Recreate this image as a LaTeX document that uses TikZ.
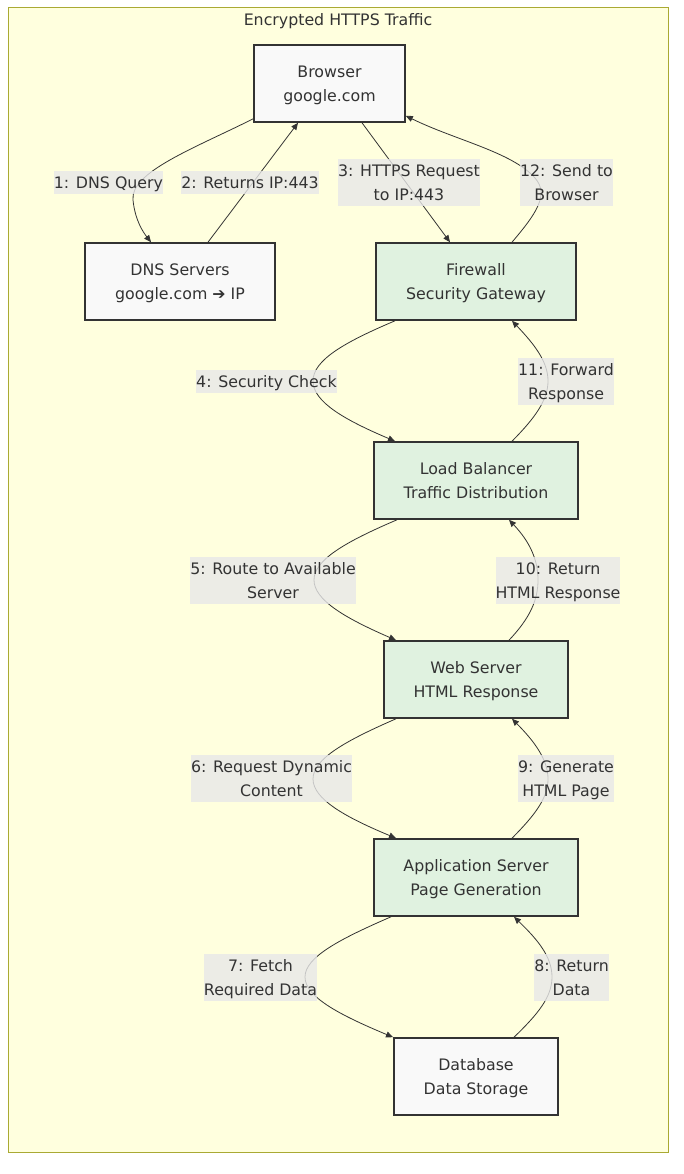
\documentclass[tikz,border=0pt]{standalone}
\usepackage{fontspec}
\setmainfont{DejaVu Sans}
\usetikzlibrary{arrows.meta,calc}
\definecolor{clfill}{HTML}{FFFFDE}
\definecolor{clline}{HTML}{AAAA33}
\definecolor{nfill}{HTML}{F9F9F9}
\definecolor{gfill}{HTML}{E0F2E0}
\definecolor{ink}{HTML}{333333}
\definecolor{lblbg}{HTML}{E8E8E8}
\newcommand\ls{\rule[-6.45pt]{0pt}{24pt}}
\begin{document}
\begin{tikzpicture}[x=1pt,y=-1pt,
  every node/.style={text=ink, font=\fontsize{15.8pt}{24pt}\selectfont},
  box/.style={draw=ink, line width=1.6pt, fill=nfill, minimum height=77pt, inner sep=0pt, align=center},
  gbox/.style={box, fill=gfill},
  lbl/.style={fill=lblbg, fill opacity=0.8, text opacity=1, inner xsep=0pt, inner ysep=-0.5pt, align=center},
  edge/.style={draw=ink, line width=0.8pt, -{Triangle[length=7pt,width=6pt]}}
]
\useasboundingbox (0,0) rectangle (684,1174);
\draw[fill=clfill, draw=clline, line width=1pt] (8,8) rectangle (668,1152);
\node[inner sep=0pt] (title) at (338,20.3) {\ls Encrypted HTTPS Traffic};

\node[box, minimum width=151pt] (b) at (329.5,83.5) {\ls Browser\\\ls google.com};
\node[box, minimum width=190pt] (dns) at (180,281.5) {\ls DNS Servers\\\ls google.com ➔ IP};
\node[gbox, minimum width=200pt] (fw) at (476,281.5) {\ls Firewall\\\ls Security Gateway};
\node[gbox, minimum width=204pt] (lb) at (476,480.5) {\ls Load Balancer\\\ls Traffic Distribution};
\node[gbox, minimum width=184pt] (web) at (476,679.5) {\ls Web Server\\\ls HTML Response};
\node[gbox, minimum width=204pt] (app) at (476,877.5) {\ls Application Server\\\ls Page Generation};
\node[box, minimum width=164pt] (db) at (476,1076.5) {\ls Database\\\ls Data Storage};

% edges
\draw[edge] ($(b.south west)+(0,-4)$) .. controls (195,148) and (130,172) .. (133,200) .. controls (135,220) and (143,232) .. ($(dns.north)+(-29,0)$);
\draw[edge] ($(dns.north)+(28,0)$) -- ($(b.south)+(-31.5,0)$);
\draw[edge] ($(b.south)+(32.5,0)$) -- ($(fw.north)+(-26,0)$);
\draw[edge] ($(fw.north)+(36,0)$) .. controls (535,215) and (550,195) .. (535,178) .. controls (512,152) and (455,140) .. ($(b.south east)+(0,-7)$);

\draw[edge] ($(fw.south)+(-81,0)$) .. controls (345,342) and (313,360) .. (313,381) .. controls (313,402) and (345,420) .. ($(lb.north)+(-81,0)$);
\draw[edge] ($(lb.north)+(36,0)$) .. controls (535,418) and (548,400) .. (548,381) .. controls (548,362) and (535,345) .. ($(fw.south)+(36,0)$);

\draw[edge] ($(lb.south)+(-79,0)$) .. controls (345,542) and (314,560) .. (314,580) .. controls (314,600) and (345,618) .. ($(web.north)+(-80,0)$);
\draw[edge] ($(web.north)+(33,0)$) .. controls (530,618) and (538,600) .. (538,580) .. controls (538,560) and (530,542) .. ($(lb.south)+(33,0)$);

\draw[edge] ($(web.south)+(-80,0)$) .. controls (345,741) and (313,759) .. (313,779) .. controls (313,799) and (345,817) .. ($(app.north)+(-80,0)$);
\draw[edge] ($(app.north)+(36,0)$) .. controls (535,815) and (548,798) .. (548,779) .. controls (548,760) and (535,742) .. ($(web.south)+(36,0)$);

\draw[edge] ($(app.south)+(-85,0)$) .. controls (340,939) and (305,957) .. (305,977) .. controls (305,997) and (340,1015) .. ($(db.north)+(-83,0)$);
\draw[edge] ($(db.north)+(38,0)$) .. controls (538,1014) and (552,997) .. (552,977) .. controls (552,957) and (538,940) .. ($(app.south)+(38,0)$);

% labels
\node[lbl] (l1) at (108.5,182.5) {\ls 1: DNS Query};
\node[lbl] (l2) at (250,182.5) {\ls 2: Returns IP:443};
\node[lbl] (l3) at (409,182.5) {\ls 3: HTTPS Request\\\ls to IP:443};
\node[lbl] (l12) at (566.5,182.5) {\ls 12: Send to\\\ls Browser};
\node[lbl] (l4) at (266.5,381.5) {\ls 4: Security Check};
\node[lbl] (l11) at (566,381.5) {\ls 11: Forward\\\ls Response};
\node[lbl] (l5) at (273,580.5) {\ls 5: Route to Available\\\ls Server};
\node[lbl] (l10) at (558,580.5) {\ls 10: Return\\\ls HTML Response};
\node[lbl] (l6) at (271.5,778.5) {\ls 6: Request Dynamic\\\ls Content};
\node[lbl] (l9) at (566,778.5) {\ls 9: Generate\\\ls HTML Page};
\node[lbl] (l7) at (260.5,977.5) {\ls 7: Fetch\\\ls Required Data};
\node[lbl] (l8) at (571.5,977.5) {\ls 8: Return\\\ls Data};
\end{tikzpicture}
\end{document}
